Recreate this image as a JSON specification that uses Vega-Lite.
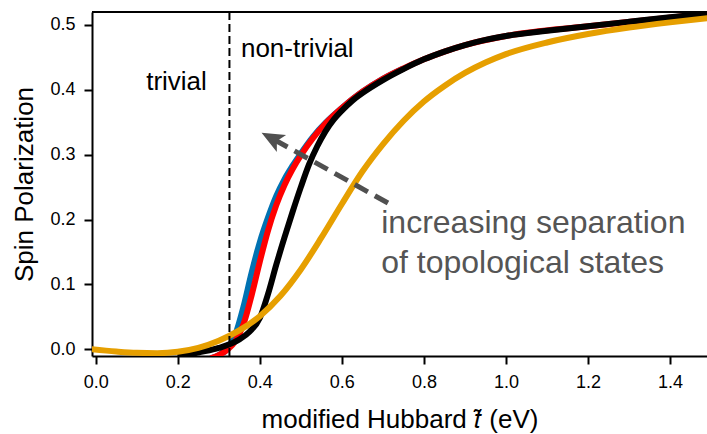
{
  "$schema": "https://vega.github.io/schema/vega-lite/v6.json",
  "width": 615,
  "height": 344,
  "autosize": {"type": "none"},
  "padding": {"left": 92, "top": 12, "right": 0, "bottom": 78},
  "config": {
    "view": {"stroke": null},
    "font": "Liberation Sans",
    "axis": {
      "grid": false,
      "domainColor": "#000000",
      "domainWidth": 2,
      "tickColor": "#000000",
      "tickWidth": 2,
      "tickSize": 8,
      "labelFont": "Liberation Sans",
      "labelFontSize": 18,
      "labelColor": "#000000",
      "labelFlush": false,
      "labelOverlap": false,
      "titleFont": "Liberation Sans",
      "titleFontSize": 26,
      "titleFontWeight": "normal",
      "titleColor": "#000000"
    }
  },
  "datasets": {
    "curves": [
      {"series": "a", "t": 0.28, "p": -0.014},
      {"series": "a", "t": 0.30, "p": -0.009},
      {"series": "a", "t": 0.32, "p": 0.0},
      {"series": "a", "t": 0.34, "p": 0.022},
      {"series": "a", "t": 0.36, "p": 0.065},
      {"series": "a", "t": 0.38, "p": 0.118},
      {"series": "a", "t": 0.40, "p": 0.165},
      {"series": "a", "t": 0.42, "p": 0.203},
      {"series": "a", "t": 0.44, "p": 0.236},
      {"series": "a", "t": 0.46, "p": 0.262},
      {"series": "a", "t": 0.48, "p": 0.283},
      {"series": "a", "t": 0.50, "p": 0.302},
      {"series": "a", "t": 0.53, "p": 0.328},
      {"series": "a", "t": 0.56, "p": 0.349},
      {"series": "a", "t": 0.60, "p": 0.372},
      {"series": "a", "t": 0.65, "p": 0.397},
      {"series": "a", "t": 0.70, "p": 0.417},
      {"series": "a", "t": 0.75, "p": 0.433},

      {"series": "b", "t": 0.28, "p": -0.014},
      {"series": "b", "t": 0.30, "p": -0.009},
      {"series": "b", "t": 0.32, "p": -0.001},
      {"series": "b", "t": 0.34, "p": 0.012},
      {"series": "b", "t": 0.36, "p": 0.038},
      {"series": "b", "t": 0.38, "p": 0.083},
      {"series": "b", "t": 0.40, "p": 0.135},
      {"series": "b", "t": 0.42, "p": 0.183},
      {"series": "b", "t": 0.44, "p": 0.222},
      {"series": "b", "t": 0.46, "p": 0.253},
      {"series": "b", "t": 0.48, "p": 0.278},
      {"series": "b", "t": 0.50, "p": 0.299},
      {"series": "b", "t": 0.53, "p": 0.326},
      {"series": "b", "t": 0.56, "p": 0.348},
      {"series": "b", "t": 0.60, "p": 0.372},
      {"series": "b", "t": 0.65, "p": 0.397},
      {"series": "b", "t": 0.70, "p": 0.417},
      {"series": "b", "t": 0.75, "p": 0.433},
      {"series": "b", "t": 0.80, "p": 0.447},
      {"series": "b", "t": 0.85, "p": 0.459},
      {"series": "b", "t": 0.90, "p": 0.469},
      {"series": "b", "t": 1.00, "p": 0.483},
      {"series": "b", "t": 1.20, "p": 0.498},
      {"series": "b", "t": 1.50, "p": 0.518},

      {"series": "c", "t": 0.20, "p": -0.012},
      {"series": "c", "t": 0.25, "p": -0.005},
      {"series": "c", "t": 0.30, "p": 0.002},
      {"series": "c", "t": 0.35, "p": 0.015},
      {"series": "c", "t": 0.375, "p": 0.027},
      {"series": "c", "t": 0.40, "p": 0.048},
      {"series": "c", "t": 0.42, "p": 0.085},
      {"series": "c", "t": 0.44, "p": 0.13},
      {"series": "c", "t": 0.46, "p": 0.172},
      {"series": "c", "t": 0.48, "p": 0.212},
      {"series": "c", "t": 0.50, "p": 0.25},
      {"series": "c", "t": 0.52, "p": 0.285},
      {"series": "c", "t": 0.54, "p": 0.313},
      {"series": "c", "t": 0.56, "p": 0.336},
      {"series": "c", "t": 0.58, "p": 0.354},
      {"series": "c", "t": 0.60, "p": 0.368},
      {"series": "c", "t": 0.625, "p": 0.383},
      {"series": "c", "t": 0.65, "p": 0.395},
      {"series": "c", "t": 0.70, "p": 0.415},
      {"series": "c", "t": 0.75, "p": 0.432},
      {"series": "c", "t": 0.80, "p": 0.447},
      {"series": "c", "t": 0.85, "p": 0.459},
      {"series": "c", "t": 0.90, "p": 0.469},
      {"series": "c", "t": 0.95, "p": 0.477},
      {"series": "c", "t": 1.00, "p": 0.483},
      {"series": "c", "t": 1.10, "p": 0.491},
      {"series": "c", "t": 1.20, "p": 0.498},
      {"series": "c", "t": 1.30, "p": 0.505},
      {"series": "c", "t": 1.40, "p": 0.512},
      {"series": "c", "t": 1.50, "p": 0.518},

      {"series": "d", "t": -0.01, "p": 0.0},
      {"series": "d", "t": 0.05, "p": -0.0035},
      {"series": "d", "t": 0.10, "p": -0.0055},
      {"series": "d", "t": 0.15, "p": -0.006},
      {"series": "d", "t": 0.20, "p": -0.004},
      {"series": "d", "t": 0.25, "p": 0.002},
      {"series": "d", "t": 0.30, "p": 0.013},
      {"series": "d", "t": 0.35, "p": 0.029},
      {"series": "d", "t": 0.40, "p": 0.051},
      {"series": "d", "t": 0.45, "p": 0.082},
      {"series": "d", "t": 0.50, "p": 0.123},
      {"series": "d", "t": 0.55, "p": 0.172},
      {"series": "d", "t": 0.60, "p": 0.224},
      {"series": "d", "t": 0.65, "p": 0.274},
      {"series": "d", "t": 0.70, "p": 0.316},
      {"series": "d", "t": 0.75, "p": 0.352},
      {"series": "d", "t": 0.80, "p": 0.382},
      {"series": "d", "t": 0.85, "p": 0.406},
      {"series": "d", "t": 0.90, "p": 0.426},
      {"series": "d", "t": 0.95, "p": 0.442},
      {"series": "d", "t": 1.00, "p": 0.455},
      {"series": "d", "t": 1.10, "p": 0.473},
      {"series": "d", "t": 1.20, "p": 0.486},
      {"series": "d", "t": 1.30, "p": 0.496},
      {"series": "d", "t": 1.40, "p": 0.504},
      {"series": "d", "t": 1.50, "p": 0.511}
    ],
    "labels": [
      {"t": 0.123, "p": 0.40, "label": "trivial", "size": 26, "tone": "#000000"},
      {"t": 0.354, "p": 0.451, "label": "non-trivial", "size": 26, "tone": "#000000"},
      {"t": 0.696, "p": 0.179, "label": "increasing separation", "size": 32, "tone": "#555555"},
      {"t": 0.696, "p": 0.118, "label": "of topological states", "size": 32, "tone": "#555555"}
    ],
    "arrow": [
      {"t": 0.7124, "p": 0.2255, "t2": 0.432, "p2": 0.3243}
    ]
  },
  "encoding": {
    "x": {
      "field": "t",
      "type": "quantitative",
      "scale": {"domain": [-0.009, 1.49], "nice": false, "zero": false},
      "axis": {
        "values": [0, 0.2, 0.4, 0.6, 0.8, 1.0, 1.2, 1.4],
        "format": ".1f",
        "labelPadding": 9,
        "titlePadding": 15,
        "title": "modified Hubbard 𝑡̃ (eV)"
      }
    },
    "y": {
      "field": "p",
      "type": "quantitative",
      "scale": {"domain": [-0.0104, 0.52], "nice": false, "zero": false},
      "axis": {
        "values": [0, 0.1, 0.2, 0.3, 0.4, 0.5],
        "format": ".1f",
        "labelPadding": 9,
        "titlePadding": 12,
        "title": "Spin Polarization"
      }
    }
  },
  "layer": [
    {
      "data": {"name": "curves"},
      "transform": [{"filter": "datum.series === 'a'"}],
      "mark": {"type": "line", "color": "#0072B2", "strokeWidth": 6, "interpolate": "monotone", "clip": true}
    },
    {
      "data": {"name": "curves"},
      "transform": [{"filter": "datum.series === 'b'"}],
      "mark": {"type": "line", "color": "#FF0000", "strokeWidth": 6, "interpolate": "monotone", "clip": true}
    },
    {
      "data": {"name": "curves"},
      "transform": [{"filter": "datum.series === 'c'"}],
      "mark": {"type": "line", "color": "#000000", "strokeWidth": 6, "interpolate": "monotone", "clip": true}
    },
    {
      "data": {"name": "curves"},
      "transform": [{"filter": "datum.series === 'd'"}],
      "mark": {"type": "line", "color": "#E69F00", "strokeWidth": 6, "interpolate": "monotone", "clip": true}
    },
    {
      "data": {"values": [{"t": 0.326}]},
      "mark": {"type": "rule", "color": "#000000", "strokeWidth": 2, "strokeDash": [8, 4]},
      "encoding": {"y": null}
    },
    {
      "data": {"values": [{"p": 0.52}]},
      "mark": {"type": "rule", "color": "#000000", "strokeWidth": 2},
      "encoding": {"x": null}
    },
    {
      "data": {"name": "arrow"},
      "mark": {"type": "rule", "color": "#505050", "strokeWidth": 5, "strokeDash": [15, 8], "strokeCap": "butt"},
      "encoding": {
        "x2": {"field": "t2"},
        "y2": {"field": "p2"}
      }
    },
    {
      "data": {"name": "arrow"},
      "mark": {
        "type": "point",
        "shape": "M0,-1L0.75,0.75L0,0.35L-0.75,0.75Z",
        "size": 670,
        "angle": 298.6,
        "filled": true,
        "opacity": 1,
        "color": "#505050"
      },
      "encoding": {
        "x": {"field": "t2", "type": "quantitative"},
        "y": {"field": "p2", "type": "quantitative"}
      }
    },
    {
      "data": {"name": "labels"},
      "mark": {"type": "text", "align": "left", "baseline": "alphabetic", "font": "Liberation Sans"},
      "encoding": {
        "text": {"field": "label"},
        "size": {"field": "size", "type": "quantitative", "scale": null},
        "color": {"field": "tone", "type": "nominal", "scale": null}
      }
    }
  ]
}
